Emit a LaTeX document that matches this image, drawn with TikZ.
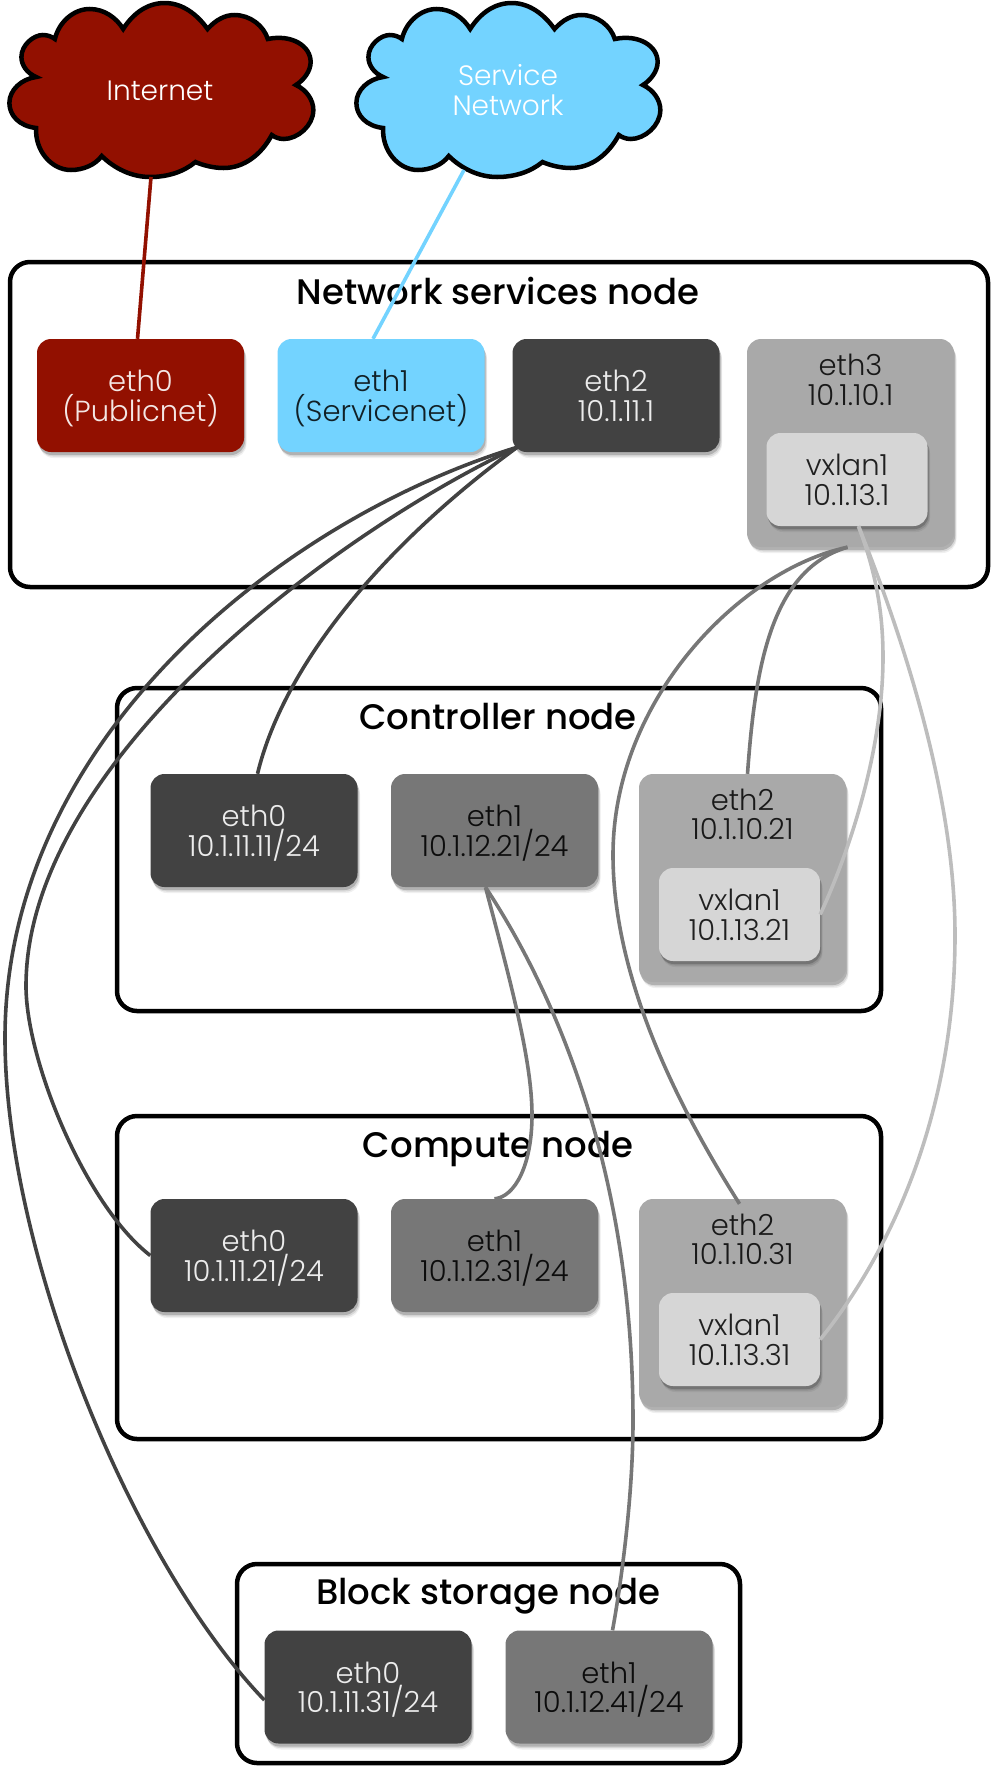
\documentclass[tikz,border=0pt]{standalone}
\usepackage{fontspec}
\setmainfont{Poppins Light}
\newfontfamily\titlefont{Poppins Medium}
\usetikzlibrary{shadows,calc}
\definecolor{redcl}{HTML}{921000}
\definecolor{bluecl}{HTML}{73D3FF}
\definecolor{darkcl}{HTML}{424242}
\definecolor{midcl}{HTML}{777777}
\definecolor{lightcl}{HTML}{A9A9A9}
\definecolor{paleclr}{HTML}{D6D6D6}
\definecolor{palelinecl}{HTML}{BDBDBD}
\tikzset{
  hostbox/.style={draw=black, line width=4.5pt, rounded corners=20pt},
  hosttitle/.style={anchor=base, font=\titlefont\fontsize{35.5}{40}\selectfont},
  softshadow/.style={
    drop shadow={shadow xshift=2.5pt, shadow yshift=-6pt, fill=black, opacity=0.06},
    drop shadow={shadow xshift=2pt, shadow yshift=-4.5pt, fill=black, opacity=0.10},
    drop shadow={shadow xshift=1pt, shadow yshift=-3pt, fill=black, opacity=0.18}},
  ifbox/.style={rounded corners=14pt, inner sep=0pt, minimum width=207pt, minimum height=113pt,
    align=center, font=\fontsize{29}{29.5}\selectfont, softshadow},
  ifred/.style={ifbox, fill=redcl, text=white!90!redcl},
  ifblue/.style={ifbox, fill=bluecl, text=black!85!bluecl},
  ifdark/.style={ifbox, fill=darkcl, text=white!90!darkcl},
  ifmid/.style={ifbox, fill=midcl, text=black!90!midcl},
  iflight/.style={ifbox, fill=lightcl, minimum height=208pt},
  ifvx/.style={ifbox, fill=paleclr, minimum width=161pt, minimum height=93pt, text=black!85!paleclr},
  iftext/.style={align=center, inner sep=0pt, font=\fontsize{29}{29.5}\selectfont, text=black!85!lightcl},
  cloudtext/.style={align=center, inner sep=0pt, text=white, font=\fontsize{28}{30}\selectfont},
  linkdark/.style={draw=darkcl, line width=3.6pt},
  linkmid/.style={draw=midcl, line width=3.6pt},
  linkpale/.style={draw=palelinecl, line width=3.6pt},
}
% keeps the two lines of a box at one height, with or without brackets
\newcommand{\twolines}[2]{\rule{0pt}{28.5pt}#1\\#2\rule[-7pt]{0pt}{7pt}}
\newcommand{\cloudpath}{(92,29) .. controls (100,12) and (111,3) .. (123,3)
  .. controls (136,3) and (147,14) .. (155,29) .. controls (161,20) and (168,15) .. (175,15)
  .. controls (187,15) and (197,26) .. (200,39) .. controls (218,34) and (232,46) .. (232,62)
  .. controls (232,71) and (227,80) .. (221,85) .. controls (229,90) and (234,100) .. (234,110)
  .. controls (234,126) and (222,139) .. (212,139) .. controls (208,139) and (205,137) .. (203,135)
  .. controls (195,155) and (182,168) .. (167,168) .. controls (159,168) and (151,165) .. (146,162)
  .. controls (137,172) and (125,177) .. (112,177) .. controls (98,177) and (85,168) .. (76,156)
  .. controls (71,165) and (62,170) .. (53,170) .. controls (38,170) and (26,150) .. (27,128)
  .. controls (14,126) and (7,115) .. (7,103) .. controls (7,90) and (16,79) .. (27,77)
  .. controls (20,73) and (16,65) .. (16,57) .. controls (16,45) and (25,35) .. (32,35)
  .. controls (36,35) and (39,37) .. (41,39) .. controls (44,22) and (55,9) .. (67,9)
  .. controls (78,9) and (87,18) .. (92,29) -- cycle}

\begin{document}
\begin{tikzpicture}[x=1pt, y=-1pt]
  \useasboundingbox (0,0) rectangle (994,1770);

  % clouds
  \foreach \cx/\cfill in {0/redcl, 347/bluecl}
    \draw[line width=4.5pt, fill=\cfill, shift={(\cx,0)}, xscale=1.339] \cloudpath;
  \node[cloudtext] (internet) at (160,91) {Internet};
  \node[cloudtext] (service) at (508,90) {Service\\Network};
  \coordinate (internettail) at (151,177);
  \coordinate (servicetail) at (464,170);

  % hosts
  \draw[hostbox] (10,262) rectangle (988,587);
  \draw[hostbox] (117,688) rectangle (881,1011);
  \draw[hostbox] (117,1116) rectangle (881,1439);
  \draw[hostbox] (237,1564) rectangle (740,1763);
  \node[hosttitle] (nettitle) at (498,304) {Network services node};
  \node[hosttitle] (ctrltitle) at (498,729) {Controller node};
  \node[hosttitle] (comptitle) at (498,1157) {Compute node};
  \node[hosttitle] (blocktitle) at (488,1604) {Block storage node};

  % network services node
  \node[ifred] (neteth0) at (140.5,395.5) {\twolines{eth0}{(Publicnet)}};
  \node[ifblue] (neteth1) at (381,395.5) {\twolines{eth1}{(Servicenet)}};
  \node[ifdark] (neteth2) at (616,395.5) {\twolines{eth2}{10.1.11.1}};
  \node[iflight] (neteth3) at (850.5,443) {};
  \node[iftext] (neteth3txt) at (850.5,380) {eth3\\10.1.10.1};
  \node[ifvx] (netvx) at (847,479.5) {\twolines{vxlan1}{10.1.13.1}};

  % controller node
  \node[ifdark] (ctrleth0) at (254,830.5) {\twolines{eth0}{10.1.11.11/24}};
  \node[ifmid] (ctrleth1) at (494.5,830.5) {\twolines{eth1}{10.1.12.21/24}};
  \node[iflight] (ctrleth2) at (742.5,878) {};
  \node[iftext] (ctrleth2txt) at (742.5,814.5) {eth2\\10.1.10.21};
  \node[ifvx] (ctrlvx) at (739.5,914.5) {\twolines{vxlan1}{10.1.13.21}};

  % compute node
  \node[ifdark] (competh0) at (254,1255.5) {\twolines{eth0}{10.1.11.21/24}};
  \node[ifmid] (competh1) at (494.5,1255.5) {\twolines{eth1}{10.1.12.31/24}};
  \node[iflight] (competh2) at (742.5,1303) {};
  \node[iftext] (competh2txt) at (742.5,1239.5) {eth2\\10.1.10.31};
  \node[ifvx] (compvx) at (739.5,1339.5) {\twolines{vxlan1}{10.1.13.31}};

  % block storage node
  \node[ifdark] (blocketh0) at (368,1687) {\twolines{eth0}{10.1.11.31/24}};
  \node[ifmid] (blocketh1) at (609,1687) {\twolines{eth1}{10.1.12.41/24}};

  % links
  \draw[draw=redcl, line width=3.6pt] (internettail) -- ($(neteth0.north)+(-3,0)$);
  \draw[draw=bluecl, line width=3.6pt] (servicetail) -- ($(neteth1.north)+(-8,0)$);

  \draw[linkdark] ($(neteth2.south west)+(5,-5)$) .. controls (390,540) and (285,660) .. ($(ctrleth0.north)+(3.5,0)$);
  \draw[linkdark] ($(neteth2.south west)+(5,-5)$) .. controls (340,530) and (26,760) .. (26,986)
    .. controls (26,1060) and (85,1205) .. (competh0.west);
  \draw[linkdark] ($(neteth2.south west)+(5,-5)$) .. controls (280,520) and (5,740) .. (5,1038)
    .. controls (5,1250) and (130,1560) .. ($(blocketh0.west)+(0,13)$);

  \draw[linkmid] ($(ctrleth1.south)+(-9,0)$) .. controls (510,980) and (532,1060) .. (532,1115)
    .. controls (532,1165) and (515,1197) .. (competh1.north);
  \draw[linkmid] ($(ctrleth1.south)+(-9,0)$) .. controls (560,1000) and (633,1180) .. (633,1421)
    .. controls (633,1500) and (620,1590) .. ($(blocketh1.north)+(3.5,0)$);

  \draw[linkmid] ($(neteth3.south)+(-3,0)$) .. controls (770,570) and (755,670) .. ($(ctrleth2.north)+(5,0)$);
  \draw[linkmid] ($(neteth3.south)+(-3,0)$) .. controls (740,570) and (613,700) .. (613,855)
    .. controls (613,980) and (680,1110) .. ($(competh2.north)+(-3,5)$);

  \draw[linkpale] ($(netvx.south)+(11.5,0)$) .. controls (875,570) and (883,610) .. (883,657)
    .. controls (883,750) and (850,850) .. (ctrlvx.east);
  \draw[linkpale] ($(netvx.south)+(11.5,0)$) .. controls (920,680) and (955,820) .. (955,935)
    .. controls (955,1100) and (900,1240) .. (compvx.east);
\end{tikzpicture}
\end{document}
